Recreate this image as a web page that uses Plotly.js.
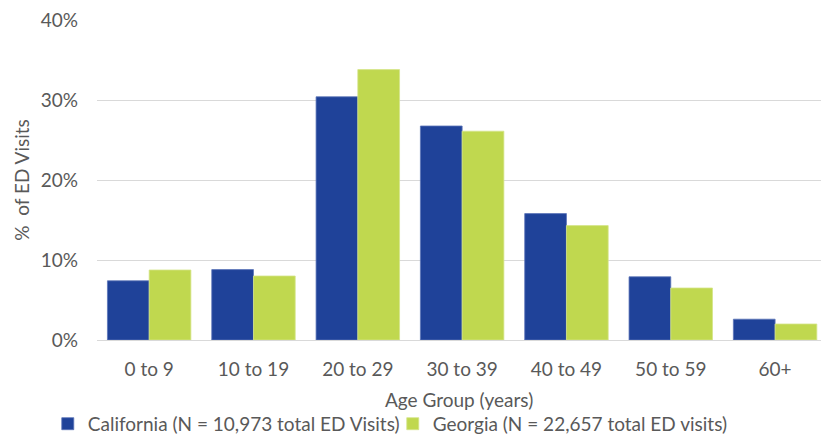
<!DOCTYPE html>
<html>
<head>
<meta charset="utf-8">
<script src="https://cdn.plot.ly/plotly-3.0.1.min.js"></script>
<style>html,body{margin:0;padding:0;background:#fff;}#chart{width:821px;height:436px;}</style>
</head>
<body>
<div id="chart"></div>
<script>
var categories = ["0 to 9", "10 to 19", "20 to 29", "30 to 39", "40 to 49", "50 to 59", "60+"];
var californiaValues = [7.4, 8.8, 30.4, 26.75, 15.8, 7.9, 2.6];
var georgiaValues = [8.75, 8.0, 33.8, 26.1, 14.3, 6.5, 2.0];
var yTickValues = [0, 10, 20, 30, 40];
var yTickLabels = ["0%", "10%", "20%", "30%", "40%"];
var californiaName = "California (N = 10,973 total ED Visits)";
var georgiaName = "Georgia (N = 22,657 total ED visits)";
var xTitle = "Age Group (years)";
var yTitle = "%  of ED Visits";

var font = "Lato, 'Open Sans', sans-serif";
var textColor = "#595959";

var traces = [
  {type: "bar", x: categories, y: californiaValues, name: californiaName,
   marker: {color: "#1F4299", line: {color: "#5A74B8", width: 0.8}}, hoverinfo: "x+y"},
  {type: "bar", x: categories, y: georgiaValues, name: georgiaName,
   marker: {color: "#C0D84F", line: {color: "#D4E489", width: 0.8}}, hoverinfo: "x+y"}
];

var layout = {
  width: 821, height: 436,
  margin: {l: 97, r: 0, t: 20, b: 96, autoexpand: false},
  paper_bgcolor: "#fff", plot_bgcolor: "#fff",
  barmode: "group", bargap: 0.2, bargroupgap: 0,
  font: {family: font, color: textColor, size: 19},
  xaxis: {
    type: "category",
    range: [-0.5, 6.44],
    showgrid: false, showline: false, zeroline: false,
    ticks: "", ticklen: 0,
    tickfont: {family: font, size: 19, color: textColor},
    ticklabelstandoff: 16,
    automargin: false
  },
  yaxis: {
    range: [0, 40],
    tickvals: yTickValues, ticktext: yTickLabels,
    showgrid: true, gridcolor: "#D9D9D9", gridwidth: 1,
    zeroline: true, zerolinecolor: "#D9D9D9", zerolinewidth: 1,
    showline: false, ticks: "",
    tickfont: {family: font, size: 19, color: textColor},
    ticklabelstandoff: 18,
    title: {text: yTitle, font: {family: font, size: 19, color: textColor}, standoff: 6},
    automargin: false
  },
  annotations: [
    {text: xTitle, xref: "paper", yref: "paper", x: 0.5, y: 0, xanchor: "center", yanchor: "middle",
     yshift: -59, showarrow: false, font: {family: font, size: 19, color: textColor}}
  ],
  legend: {
    orientation: "h", xref: "paper", x: -0.068, xanchor: "left",
    yref: "paper", y: -0.262, yanchor: "middle",
    font: {family: font, size: 19, color: textColor},
    itemwidth: 30, tracegroupgap: 0, traceorder: "normal",
    entrywidth: 300, entrywidthmode: "pixels",
    bgcolor: "rgba(0,0,0,0)"
  },
  showlegend: true
};

Plotly.newPlot("chart", traces, layout, {displayModeBar: false, staticPlot: true});
</script>
</body>
</html>
